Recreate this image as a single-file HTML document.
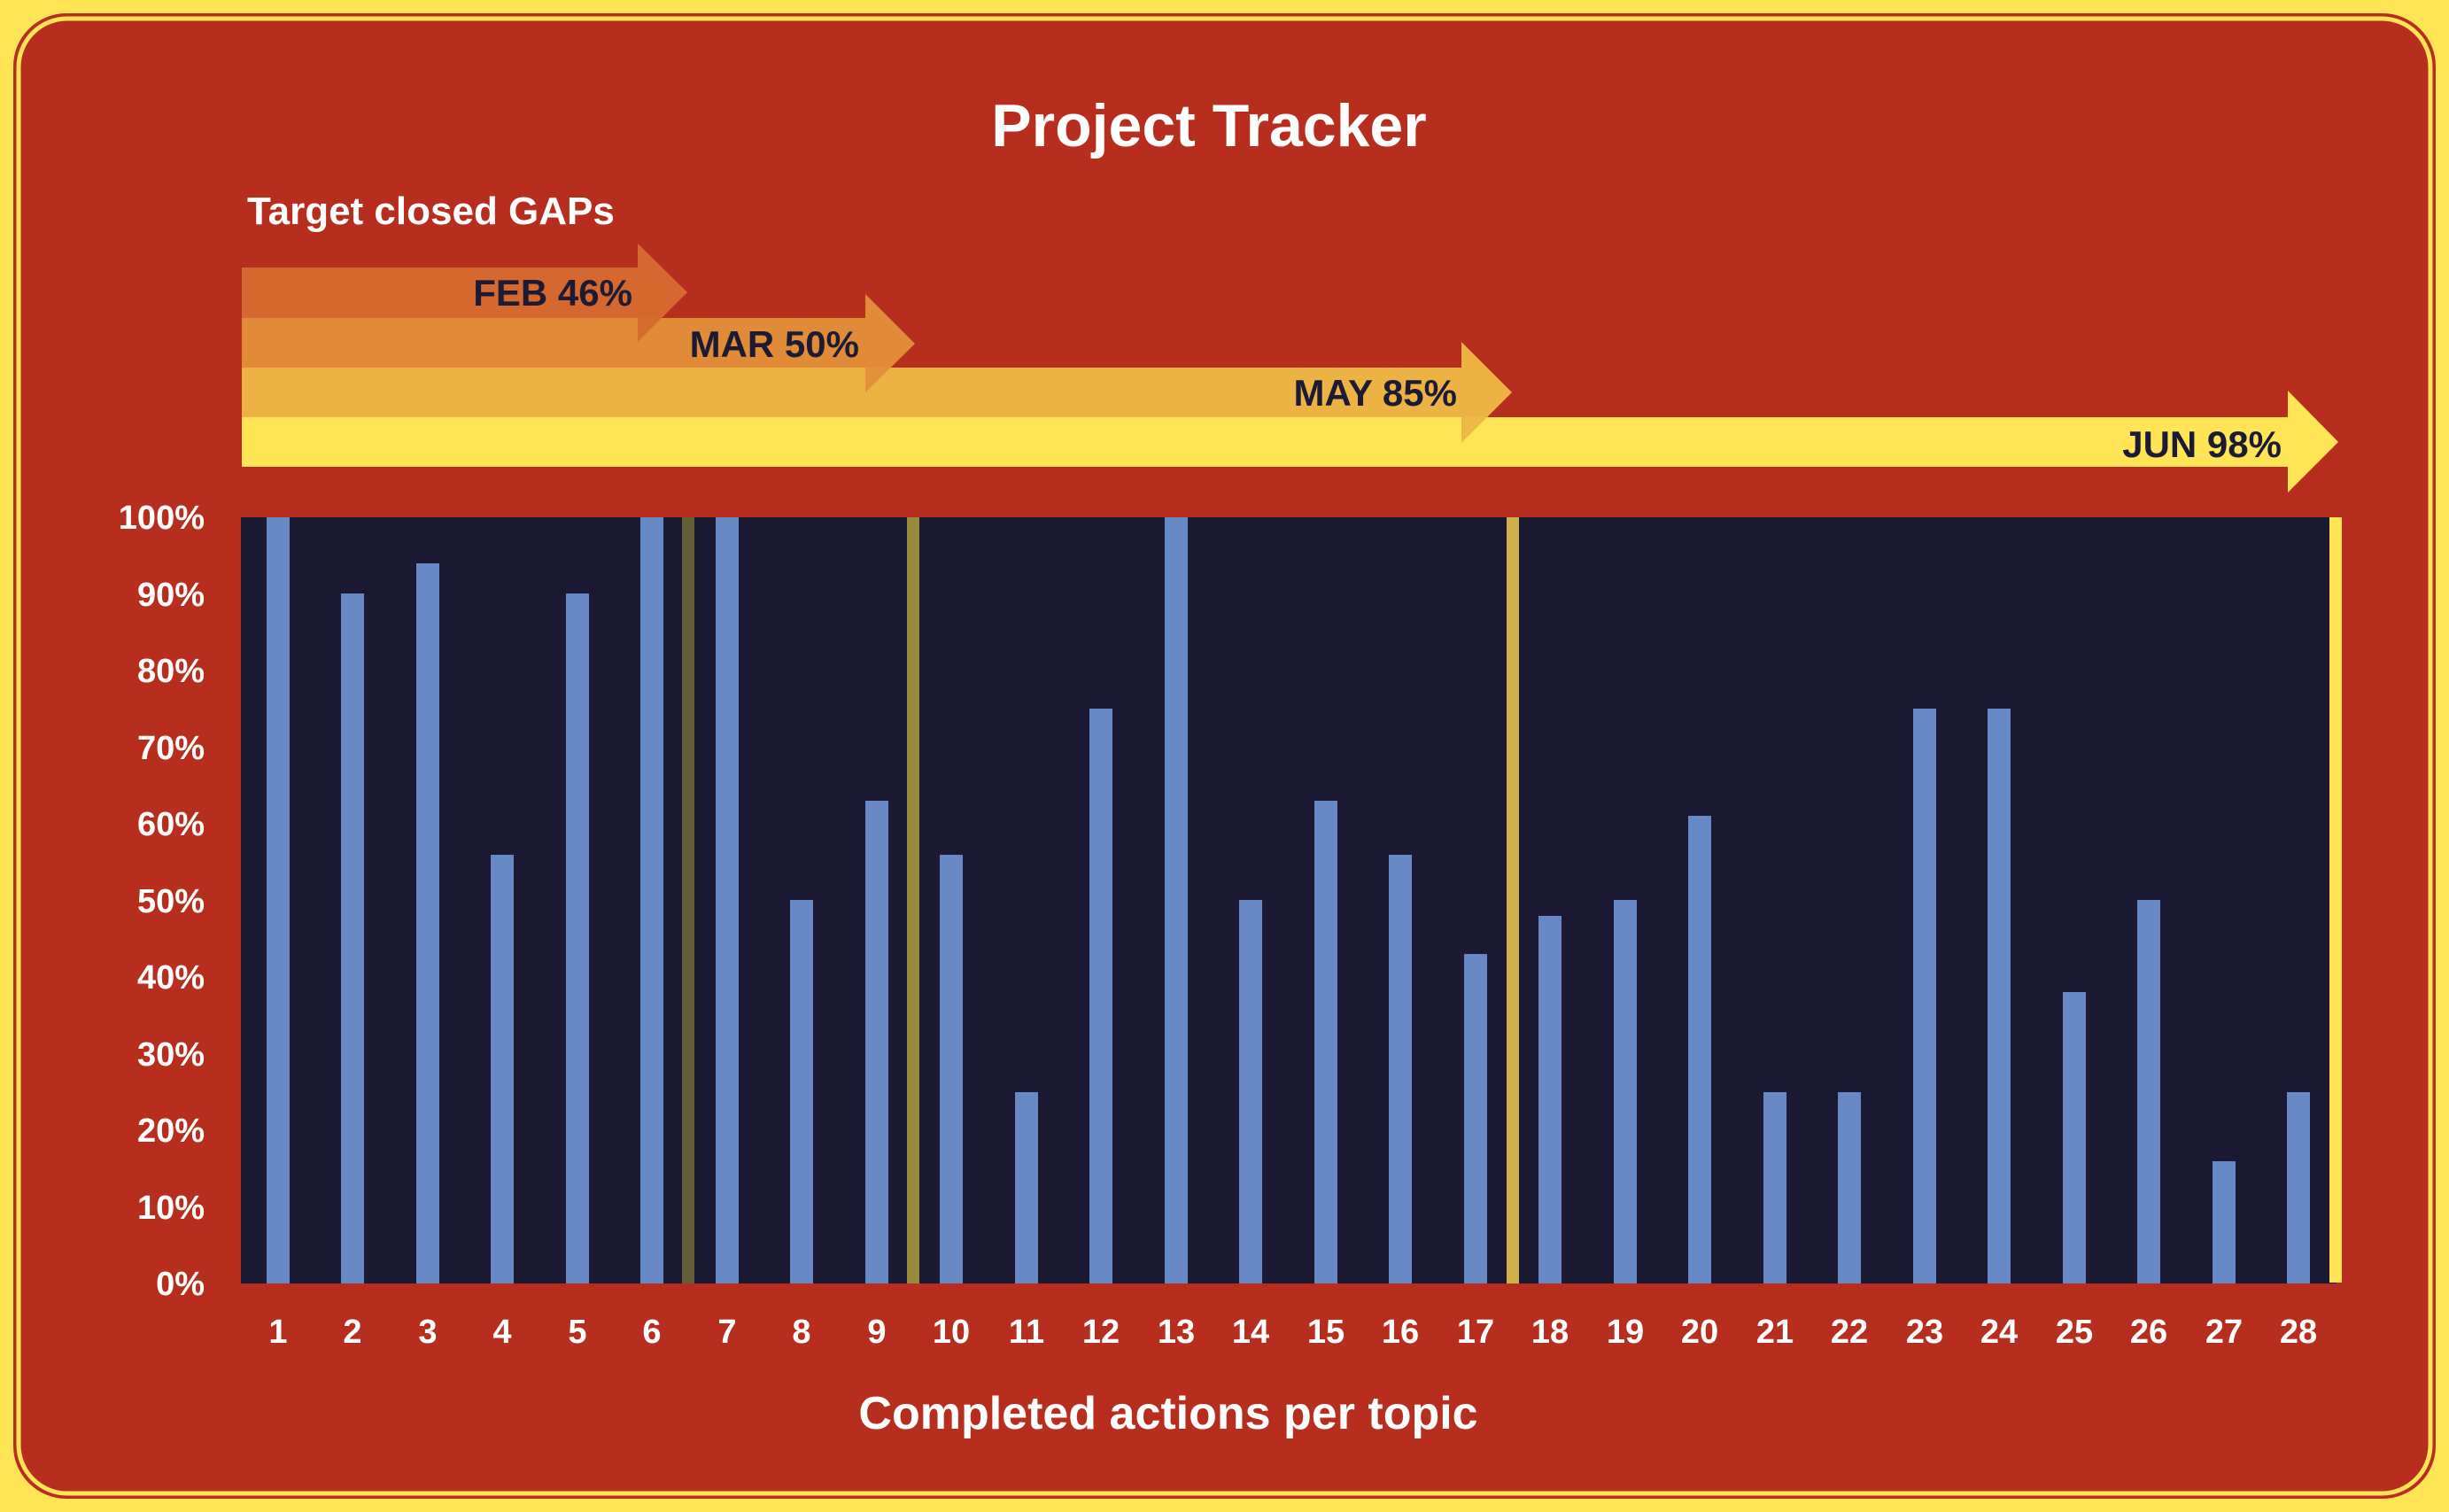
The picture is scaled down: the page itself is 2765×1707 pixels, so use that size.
<!DOCTYPE html>
<html><head><meta charset="utf-8"><style>
html,body{margin:0;padding:0;background:#ffe555;}
svg{display:block;}
text{font-family:"Liberation Sans",sans-serif;}
</style></head><body>
<svg width="2765" height="1707" viewBox="0 0 2765 1707" xmlns="http://www.w3.org/2000/svg">
<rect x="0" y="0" width="2765" height="1707" fill="#ffe555"/>
<rect x="15" y="15" width="2735" height="1677" rx="60" fill="#b82e1e"/>
<rect x="21" y="21" width="2723" height="1665" rx="55" fill="none" stroke="#ffe555" stroke-width="5"/>
<text x="1365" y="165" text-anchor="middle" font-size="68" font-weight="bold" fill="#fff">Project Tracker</text>
<text x="279" y="253" font-size="44" font-weight="bold" fill="#fff">Target closed GAPs</text>
<polygon points="273,471 2583,471 2583,441 2640,499 2583,556 2583,527 273,527" fill="#ffe555"/>
<polygon points="273,415 1650,415 1650,386 1707,443 1650,500 1650,471 273,471" fill="#edb845" fill-opacity="0.97"/>
<polygon points="273,359 977,359 977,332 1033,388 977,443 977,415 273,415" fill="#e3903b" fill-opacity="0.95"/>
<polygon points="273,302 720,302 720,275 776,330 720,386 720,359 273,359" fill="#d66b30" fill-opacity="0.95"/>
<g font-size="42" font-weight="bold" fill="#1c1b33" text-anchor="end">
<text x="714" y="345">FEB 46%</text>
<text x="970" y="403">MAR 50%</text>
<text x="1645" y="458">MAY 85%</text>
<text x="2576" y="516">JUN 98%</text>
</g>
<rect x="272" y="584" width="2366" height="865" fill="#1a1931"/>
<g fill="#6688c4">
<rect x="301" y="584" width="26" height="865"/>
<rect x="385" y="670" width="26" height="779"/>
<rect x="470" y="636" width="26" height="813"/>
<rect x="554" y="965" width="26" height="484"/>
<rect x="639" y="670" width="26" height="779"/>
<rect x="723" y="584" width="26" height="865"/>
<rect x="808" y="584" width="26" height="865"/>
<rect x="892" y="1016" width="26" height="433"/>
<rect x="977" y="904" width="26" height="545"/>
<rect x="1061" y="965" width="26" height="484"/>
<rect x="1146" y="1233" width="26" height="216"/>
<rect x="1230" y="800" width="26" height="649"/>
<rect x="1315" y="584" width="26" height="865"/>
<rect x="1399" y="1016" width="26" height="433"/>
<rect x="1484" y="904" width="26" height="545"/>
<rect x="1568" y="965" width="26" height="484"/>
<rect x="1653" y="1077" width="26" height="372"/>
<rect x="1737" y="1034" width="26" height="415"/>
<rect x="1822" y="1016" width="26" height="433"/>
<rect x="1906" y="921" width="26" height="528"/>
<rect x="1991" y="1233" width="26" height="216"/>
<rect x="2075" y="1233" width="26" height="216"/>
<rect x="2160" y="800" width="26" height="649"/>
<rect x="2244" y="800" width="26" height="649"/>
<rect x="2329" y="1120" width="26" height="329"/>
<rect x="2413" y="1016" width="26" height="433"/>
<rect x="2498" y="1311" width="26" height="138"/>
<rect x="2582" y="1233" width="26" height="216"/>
</g>
<rect x="770" y="584" width="14" height="865" fill="#655c3a"/>
<rect x="1024" y="584" width="14" height="865" fill="#9a8a40"/>
<rect x="1701" y="584" width="14" height="865" fill="#cdb04a"/>
<rect x="2630" y="584" width="14" height="864" fill="#ffe555"/>
<g font-size="38" font-weight="bold" fill="#fff" text-anchor="end">
<text x="231" y="597">100%</text>
<text x="231" y="684">90%</text>
<text x="231" y="770">80%</text>
<text x="231" y="857">70%</text>
<text x="231" y="943">60%</text>
<text x="231" y="1030">50%</text>
<text x="231" y="1116">40%</text>
<text x="231" y="1203">30%</text>
<text x="231" y="1289">20%</text>
<text x="231" y="1376">10%</text>
<text x="231" y="1462">0%</text>
</g>
<g font-size="38" font-weight="bold" fill="#fff" text-anchor="middle">
<text x="314" y="1516">1</text><text x="398" y="1516">2</text><text x="483" y="1516">3</text><text x="567" y="1516">4</text>
<text x="652" y="1516">5</text><text x="736" y="1516">6</text><text x="821" y="1516">7</text><text x="905" y="1516">8</text>
<text x="990" y="1516">9</text><text x="1074" y="1516">10</text><text x="1159" y="1516">11</text><text x="1243" y="1516">12</text>
<text x="1328" y="1516">13</text><text x="1412" y="1516">14</text><text x="1497" y="1516">15</text><text x="1581" y="1516">16</text>
<text x="1666" y="1516">17</text><text x="1750" y="1516">18</text><text x="1835" y="1516">19</text><text x="1919" y="1516">20</text>
<text x="2004" y="1516">21</text><text x="2088" y="1516">22</text><text x="2173" y="1516">23</text><text x="2257" y="1516">24</text>
<text x="2342" y="1516">25</text><text x="2426" y="1516">26</text><text x="2511" y="1516">27</text><text x="2595" y="1516">28</text>
</g>
<text x="1319" y="1613" text-anchor="middle" font-size="52" font-weight="bold" fill="#fff">Completed actions per topic</text>
</svg>
</body></html>
